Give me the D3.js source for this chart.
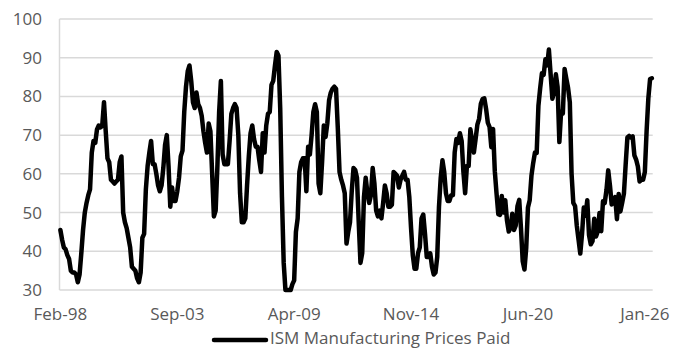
<!DOCTYPE html>
<html>
<head>
<meta charset="utf-8">
<script src="https://cdn.jsdelivr.net/npm/d3@7"></script>
<style>
  html, body { margin: 0; padding: 0; background: #ffffff; }
  svg { display: block; }
  text { font-family: "Open Sans", "Noto Sans", sans-serif; fill: #595959; }
</style>
</head>
<body>
<svg id="chart" width="674" height="348"></svg>
<script>
// ISM Manufacturing Prices Paid index, monthly, first value Feb-1998
const seriesName = "ISM Manufacturing Prices Paid";
const firstMonth = new Date(1998, 1, 1);

const pricesPaid = [
  45.5, 43.0, 41.0, 40.5, 39.0, 38.0, 35.0, 34.5, 34.5, 34.0, 32.0, 34.0,
  39.5, 45.5, 50.0, 52.5, 54.5, 56.0, 65.5, 68.5, 68.0, 71.5, 72.5, 72.0,
  72.5, 78.5, 71.0, 64.0, 63.0, 58.5, 58.0, 57.5, 58.0, 58.5, 63.0, 64.5,
  50.0, 47.5, 46.0, 43.5, 41.0, 36.0, 35.5, 35.0, 33.0, 32.0, 34.5, 43.5,
  44.5, 56.0, 62.0, 65.5, 68.5, 62.5, 62.5, 60.0, 57.0, 55.5, 57.0, 61.5,
  67.5, 70.0, 62.0, 51.5, 56.5, 53.0, 53.0, 55.5, 59.0, 64.5, 66.0, 76.0,
  82.5, 86.5, 88.0, 84.0, 78.5, 77.0, 81.0, 78.0, 77.0, 75.0, 71.0, 68.0,
  65.5, 73.0, 71.0, 60.0, 49.0, 50.5, 62.0, 76.0, 84.0, 65.0, 62.5, 62.5,
  62.5, 68.5, 75.5, 77.0, 78.0, 77.0, 70.0, 55.0, 47.5, 47.5, 48.5, 57.0,
  64.5, 70.5, 72.5, 69.0, 67.0, 67.0, 63.5, 60.5, 70.5, 65.5, 72.5, 75.5,
  76.0, 83.0, 84.0, 88.0, 91.5, 90.5, 77.0, 54.0, 37.0, 25.5, 18.0, 29.0,
  29.0, 31.5, 32.5, 45.0, 48.5, 60.5, 63.0, 64.0, 64.0, 55.5, 67.0, 65.0,
  70.0, 76.0, 78.0, 76.0, 57.5, 55.0, 63.0, 72.5, 69.5, 73.0, 79.0, 81.0,
  82.0, 82.5, 82.0, 72.0, 60.5, 58.5, 57.0, 55.0, 42.0, 45.0, 47.5, 55.5,
  61.5, 61.0, 59.0, 47.5, 37.0, 39.5, 54.0, 59.0, 55.0, 52.5, 54.5, 61.5,
  57.5, 50.5, 49.0, 50.5, 48.5, 52.5, 57.0, 55.0, 51.5, 51.5, 52.0, 60.5,
  60.0, 59.5, 56.5, 58.5, 59.5, 60.5, 58.5, 58.5, 54.0, 46.0, 39.0, 35.5,
  35.5, 39.5, 41.0, 48.5, 49.5, 44.5, 38.5, 38.5, 39.5, 36.0, 34.0, 34.5,
  38.5, 51.5, 59.0, 63.5, 60.5, 55.0, 53.0, 53.0, 54.5, 54.5, 65.5, 69.0,
  68.0, 70.5, 68.5, 60.5, 55.0, 62.0, 62.0, 71.5, 68.5, 65.5, 69.0, 72.7,
  74.2, 78.1, 79.3, 79.5, 76.8, 73.2, 72.1, 66.9, 71.6, 60.7, 54.9, 49.6,
  49.4, 54.3, 50.0, 53.2, 47.9, 45.1, 46.0, 49.7, 45.5, 46.7, 51.7, 53.3,
  45.9, 37.4, 35.3, 40.8, 51.3, 53.2, 59.5, 62.8, 65.5, 65.4, 77.6, 82.1,
  86.0, 85.6, 89.6, 88.0, 92.1, 85.7, 79.4, 81.2, 85.7, 82.4, 68.2, 76.1,
  75.6, 87.1, 84.6, 82.2, 78.5, 60.0, 52.5, 51.7, 46.6, 43.0, 39.4, 44.5,
  51.3, 49.2, 53.2, 44.2, 41.8, 42.6, 48.4, 43.8, 45.1, 49.9, 45.2, 52.9,
  52.5, 55.8, 60.9, 57.0, 52.1, 52.9, 54.0, 48.3, 54.8, 50.3, 52.5, 54.9,
  62.4, 69.4, 69.8, 69.4, 69.7, 64.8, 63.7, 61.9, 58.0, 58.5, 58.5, 60.5,
  71.0, 79.5, 84.5, 84.7
];

// category labels shown every 67 months
const xTickLabels = ["Feb-98", "Sep-03", "Apr-09", "Nov-14", "Jun-20", "Jan-26"];
const xTickEvery = 67;
const yTicks = [30, 40, 50, 60, 70, 80, 90, 100];

const months = pricesPaid.map((_, i) => d3.timeMonth.offset(firstMonth, i));
const data = pricesPaid.map((v, i) => ({ i, date: months[i], value: v }));

const svg = d3.select("#chart");
const plot = { left: 59.5, right: 652.7, top: 19, bottom: 290 };

const x = d3.scalePoint()
  .domain(d3.range(pricesPaid.length))
  .range([plot.left, plot.right])
  .padding(0.5);

const y = d3.scaleLinear()
  .domain([30, 100])
  .range([plot.bottom, plot.top])
  .clamp(true);

// horizontal gridlines
svg.append("g")
  .selectAll("line")
  .data(yTicks)
  .join("line")
  .attr("x1", plot.left)
  .attr("x2", plot.right)
  .attr("y1", d => y(d))
  .attr("y2", d => y(d))
  .attr("stroke", "#d9d9d9")
  .attr("stroke-width", 1.5);

// vertical axis line
svg.append("line")
  .attr("x1", plot.left).attr("x2", plot.left)
  .attr("y1", y(100)).attr("y2", y(30))
  .attr("stroke", "#d9d9d9")
  .attr("stroke-width", 1.5);

// y-axis labels
svg.append("g")
  .selectAll("text")
  .data(yTicks)
  .join("text")
  .attr("x", 42)
  .attr("y", d => y(d) + 6)
  .attr("text-anchor", "end")
  .attr("font-size", 17)
  .text(d => d);

// x-axis category labels
const labelIdx = d3.range(0, pricesPaid.length, xTickEvery).slice(0, xTickLabels.length);
svg.append("g")
  .selectAll("text")
  .data(labelIdx)
  .join("text")
  .attr("x", d => x(d))
  .attr("y", 320)
  .attr("text-anchor", "middle")
  .attr("font-size", 17)
  .text((d, k) => xTickLabels[k]);

// series line
const line = d3.line()
  .x(d => x(d.i))
  .y(d => y(d.value));

svg.append("path")
  .datum(data)
  .attr("d", line)
  .attr("fill", "none")
  .attr("stroke", "#000000")
  .attr("stroke-width", 4.5)
  .attr("stroke-linejoin", "round")
  .attr("stroke-linecap", "round");

// legend
const legend = svg.append("g");
legend.append("line")
  .attr("x1", 214).attr("x2", 266)
  .attr("y1", 340).attr("y2", 340)
  .attr("stroke", "#000000")
  .attr("stroke-width", 4.5)
  .attr("stroke-linecap", "round");
legend.append("text")
  .attr("x", 270)
  .attr("y", 344)
  .attr("font-size", 17)
  .text(seriesName);
</script>
</body>
</html>
